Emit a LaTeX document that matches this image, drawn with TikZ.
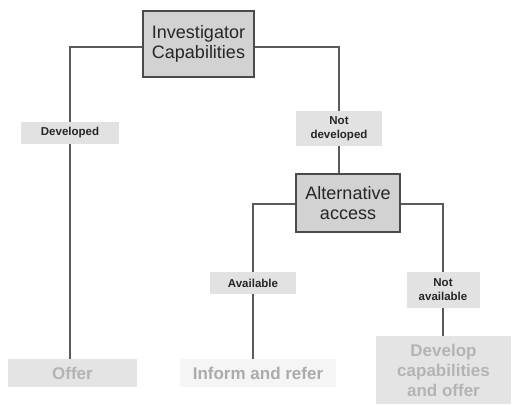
\documentclass[tikz,border=0pt]{standalone}
\usepackage{fontspec}
\setmainfont{Liberation Sans}
\definecolor{boxfill}{HTML}{D2D2D2}
\definecolor{boxdraw}{HTML}{4A4A4A}
\definecolor{linec}{HTML}{5A5A5A}
\definecolor{labfill}{HTML}{E2E2E2}
\definecolor{outfill}{HTML}{E4E4E4}
\definecolor{outtext}{HTML}{B4B4B4}
\definecolor{infill}{HTML}{F5F5F5}
\definecolor{intext}{HTML}{ABABAB}
\tikzset{
  mainbox/.style={draw=boxdraw, line width=1.2pt, fill=boxfill, inner sep=0pt, align=center,
    font=\fontsize{18}{20}\selectfont, text=black!85},
  lab/.style={fill=labfill, inner sep=0pt, align=center,
    font=\bfseries\fontsize{11.5}{14}\selectfont, text=black!85},
  outbox/.style={fill=outfill, inner sep=0pt, align=center,
    font=\bfseries\fontsize{17}{20}\selectfont, text=outtext},
  conn/.style={draw=linec, line width=1.2pt}
}
\begin{document}
\begin{tikzpicture}[x=1pt,y=-1pt]
\useasboundingbox (0,0) rectangle (529,404);
% main boxes
\node[mainbox, minimum width=111pt, minimum height=66pt] (inv) at (198.5,44) {Investigator\\Capabilities};
\node[mainbox, minimum width=104pt, minimum height=58pt] (alt) at (348,203) {Alternative\\access};
% labels
\node[lab, minimum width=98pt, minimum height=22pt] (dev) at (70,133) {Developed};
\node[lab, minimum width=86pt, minimum height=35pt] (ndev) at (339,128.5) {Not\\developed};
\node[lab, minimum width=86pt, minimum height=22pt] (avail) at (253,283) {Available};
\node[lab, minimum width=73pt, minimum height=36pt] (navail) at (443,290) {Not\\available};
% outcomes
\node[outbox, minimum width=129pt, minimum height=28pt] (offer) at (72.5,373) {Offer};
\node[outbox, fill=infill, text=intext, minimum width=156pt, minimum height=28pt] (inform) at (258,373) {Inform and refer};
\node[outbox, minimum width=135pt, minimum height=68pt, anchor=north] (develop) at (443.5,336) {Develop\\capabilities\\and offer};
% connectors
\coordinate (c1) at (70,47);
\coordinate (c2) at (339,47);
\coordinate (c3) at (253,204);
\coordinate (c4) at (443,204);
\draw[conn] (inv.west |- c1) -- (c1) -- (dev.north);
\draw[conn] (dev.south) -- (dev.south |- offer.north);
\draw[conn] (inv.east |- c2) -- (c2) -- (ndev.north);
\draw[conn] (ndev.south) -- (ndev.south |- alt.north);
\draw[conn] (alt.west |- c3) -- (c3) -- (avail.north);
\draw[conn] (avail.south) -- (avail.south |- inform.north);
\draw[conn] (alt.east |- c4) -- (c4) -- (navail.north);
\draw[conn] (navail.south) -- (navail.south |- develop.north);
\end{tikzpicture}
\end{document}
